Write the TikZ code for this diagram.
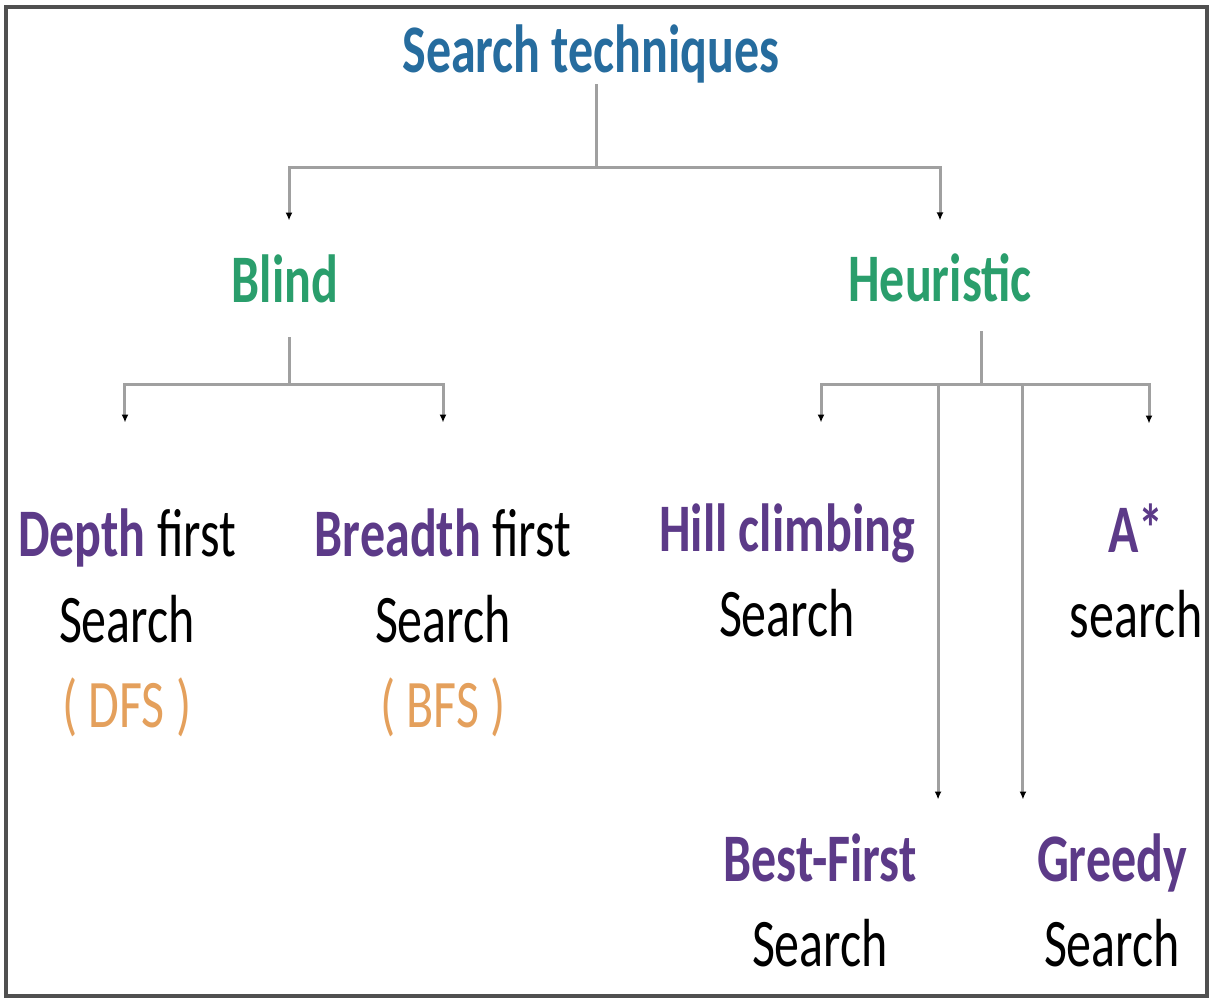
\documentclass[tikz,border=0pt]{standalone}
\usepackage{fontspec}
\setmainfont{Carlito}[FakeStretch=0.735]
\usetikzlibrary{arrows.meta}

\definecolor{titleblue}{RGB}{38,108,158}
\definecolor{kindgreen}{RGB}{42,158,108}
\definecolor{methodpurple}{RGB}{92,58,136}
\definecolor{shortorange}{RGB}{228,160,92}
\definecolor{linegray}{RGB}{160,160,160}
\definecolor{framegray}{RGB}{80,80,80}

\begin{document}
\begin{tikzpicture}[x=0.01cm, y=-0.01cm,
    font=\fontsize{19.35pt}{24.45pt}\selectfont,
    main node/.style={align=center, inner sep=0pt, anchor=base},
    conn/.style={draw=linegray, line width=0.03cm, -{Latex[black,length=0.08cm,width=0.07cm]}}]
                \useasboundingbox (0,0) rectangle (1211,1001);
                \draw[framegray, line width=0.045cm] (6,7) rectangle (1207,996);

                % base anchor of a node with several lines sits on its last line
                \node[main node, text=titleblue] at (591, 73) (title) {\bfseries Search techniques};
                \node[main node, text=kindgreen] at (285, 303) (blind) {\bfseries Blind};
                \node[main node, text=kindgreen] at (940, 302) (heur) {\bfseries Heuristic};
                \node[main node] at (127, 728) (dfs) {\textcolor{methodpurple}{\bfseries Depth} first\\Search\\\textcolor{shortorange}{( DFS )}};
                \node[main node] at (443, 728) (bfs) {\textcolor{methodpurple}{\bfseries Breadth} first\\Search\\\textcolor{shortorange}{( BFS )}};
                \node[main node] at (787, 637) (hill) {\textcolor{methodpurple}{\bfseries Hill climbing}\\Search};
                \node[main node] at (1136, 638) (astar) {\textcolor{methodpurple}{\bfseries A*}\\search};
                \node[main node] at (820, 967) (best) {\textcolor{methodpurple}{\bfseries Best-First}\\Search};
                \node[main node] at (1112, 967) (greedy) {\textcolor{methodpurple}{\bfseries Greedy}\\Search};

                \coordinate (top) at (596, 168);
                \coordinate (bj) at (289, 385);
                \coordinate (hj) at (981, 385);

            \draw[conn, -] (title.south -| top) -- (top);
            \draw[conn, shorten >=0.34cm] (top) -| ([xshift=0.04cm]blind.north);
            \draw[conn, shorten >=0.33cm] (top) -| (heur.north);
            \draw[conn, -, shorten <=0.33cm] (blind.south -| bj) -- (bj);
            \draw[conn, shorten >=0.85cm] (bj) -| ([xshift=-0.02cm]dfs.north);
            \draw[conn, shorten >=0.85cm] (bj) -| (bfs.north);
            \draw[conn, -, shorten <=0.28cm] (heur.south -| hj) -- (hj);
            \draw[conn, shorten >=0.80cm] (hj) -| ([xshift=0.34cm]hill.north);
            \draw[conn, shorten >=0.33cm] (hj) -| ([xshift=1.18cm]best.north);
            \draw[conn, shorten >=0.33cm] (hj) -| ([xshift=-0.89cm]greedy.north);
            \draw[conn, shorten >=0.79cm] (hj) -| ([xshift=0.13cm]astar.north);

            \end{tikzpicture}
\end{document}
